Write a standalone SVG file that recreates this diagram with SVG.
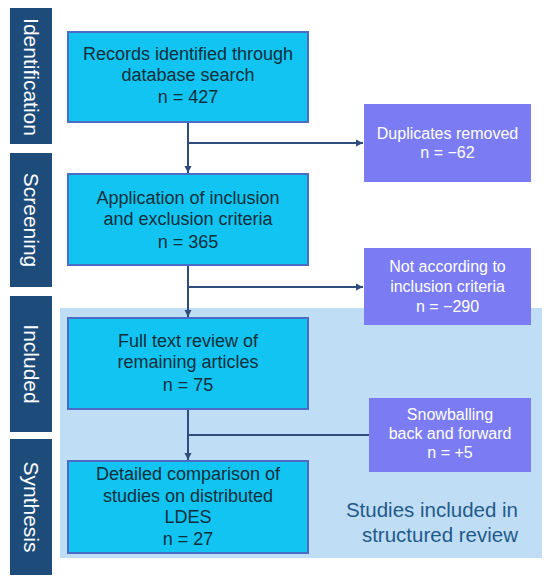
<svg xmlns="http://www.w3.org/2000/svg" width="550" height="581" viewBox="0 0 550 581">
<style>
.side{fill:#1E4C7A}
.sidet{fill:#fff;font-family:"Liberation Sans",Arial,sans-serif;font-size:21px;text-anchor:middle}
.main{fill:#12C4F2;stroke:#4A6CC4;stroke-width:2}
.maint{fill:#0E2F3A;font-family:"Liberation Sans",Arial,sans-serif;font-size:18px;text-anchor:middle}
.side2{fill:#7B7CF4}
.side2t{fill:#fff;font-family:"Liberation Sans",Arial,sans-serif;font-size:16px;text-anchor:middle}
.conn{stroke:#2E4C7C;stroke-width:2;fill:none}
</style>
<defs>
<marker id="ah" markerWidth="8" markerHeight="8" refX="7" refY="4" orient="auto" markerUnits="userSpaceOnUse">
<path d="M0,0.5 L7,4 L0,7.5 z" fill="#2E4C7C"/>
</marker>
</defs>
<rect width="550" height="581" fill="#fff"/>
<rect id="review-area" x="60" y="308" width="482" height="250" fill="#BFDDF5"/>
<g id="sidebar">
<g id="identification"><rect class="side" x="10" y="8" width="42" height="136"/><text class="sidet" transform="translate(31,77) rotate(90)" dy="7.5">Identification</text></g>
<g id="screening"><rect class="side" x="10" y="153" width="42" height="134"/><text class="sidet" transform="translate(31,220) rotate(90)" dy="7.5">Screening</text></g>
<g id="included"><rect class="side" x="10" y="296" width="42" height="136"/><text class="sidet" transform="translate(31,364) rotate(90)" dy="7.5">Included</text></g>
<g id="synthesis"><rect class="side" x="10" y="439" width="42" height="136"/><text class="sidet" transform="translate(31,507) rotate(90)" dy="7.5">Synthesis</text></g>
</g>
<g id="connectors">
<line class="conn" x1="188" y1="123" x2="188" y2="173" marker-end="url(#ah)"/>
<line class="conn" x1="188" y1="143" x2="363" y2="143" marker-end="url(#ah)"/>
<line class="conn" x1="188" y1="266" x2="188" y2="317" marker-end="url(#ah)"/>
<line class="conn" x1="188" y1="287" x2="363" y2="287" marker-end="url(#ah)"/>
<line class="conn" x1="188" y1="410" x2="188" y2="460" marker-end="url(#ah)"/>
<line class="conn" x1="188" y1="435" x2="369" y2="435"/>
</g>
<g id="records"><rect class="main" x="68" y="32" width="240" height="90"/>
<text class="maint" x="188" y="60">Records identified through</text>
<text class="maint" x="188" y="81">database search</text>
<text class="maint" x="188" y="103">n = 427</text></g>
<g id="application"><rect class="main" x="68" y="174" width="240" height="91"/>
<text class="maint" x="188" y="204">Application of inclusion</text>
<text class="maint" x="188" y="225">and exclusion criteria</text>
<text class="maint" x="188" y="248">n = 365</text></g>
<g id="fulltext"><rect class="main" x="68" y="318" width="240" height="91"/>
<text class="maint" x="188" y="347">Full text review of</text>
<text class="maint" x="188" y="368">remaining articles</text>
<text class="maint" x="188" y="391">n = 75</text></g>
<g id="detailed"><rect class="main" x="68" y="461" width="240" height="92"/>
<text class="maint" x="188" y="480">Detailed comparison of</text>
<text class="maint" x="188" y="502">studies on distributed</text>
<text class="maint" x="188" y="523">LDES</text>
<text class="maint" x="188" y="545">n = 27</text></g>
<g id="duplicates"><rect class="side2" x="364" y="104" width="167" height="78"/>
<text class="side2t" x="447.5" y="139">Duplicates removed</text>
<text class="side2t" x="447.5" y="158">n = −62</text></g>
<g id="notaccording"><rect class="side2" x="364" y="248" width="167" height="77"/>
<text class="side2t" x="447.5" y="272">Not according to</text>
<text class="side2t" x="447.5" y="292">inclusion criteria</text>
<text class="side2t" x="447.5" y="312">n = −290</text></g>
<g id="snowballing"><rect class="side2" x="369" y="398" width="162" height="74"/>
<text class="side2t" x="450" y="420">Snowballing</text>
<text class="side2t" x="450" y="439">back and forward</text>
<text class="side2t" x="450" y="458">n = +5</text></g>
<g id="review-label" font-family="'Liberation Sans',Arial,sans-serif" font-size="20.5" fill="#1F5A8A" text-anchor="end">
<text x="518" y="517">Studies included in</text>
<text x="518" y="542">structured review</text>
</g>
</svg>
